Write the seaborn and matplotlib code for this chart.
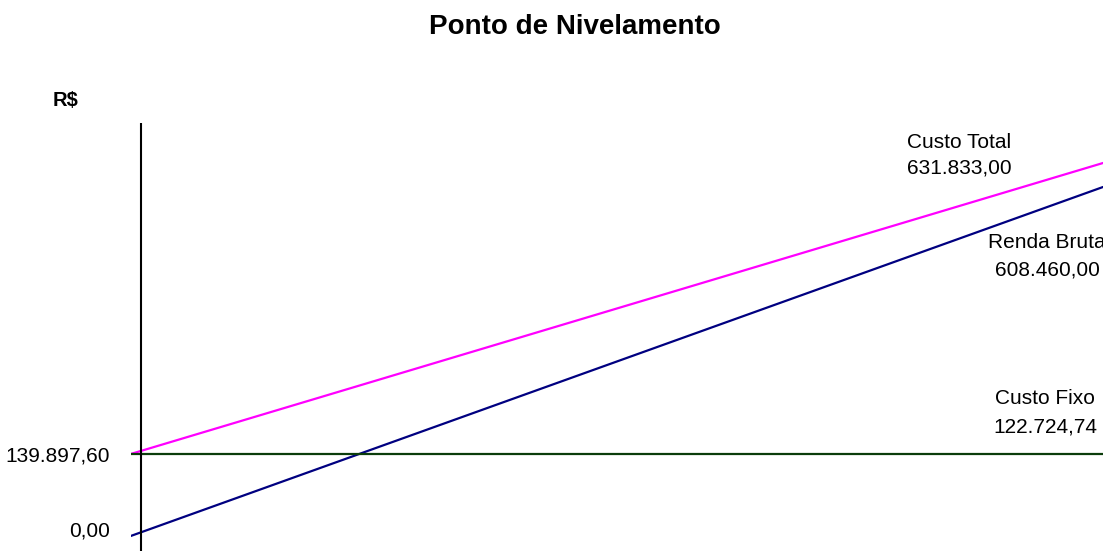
import numpy as np
import pandas as pd
import seaborn as sns
import matplotlib.pyplot as plt

# quantity axis (start / end of the drawn segment) and the three series in R$
quantidade = [0.0, 1.0]
custo_total = [139897.60, 682700.0]
renda_bruta = [-13057.0, 637933.0]
custo_fixo = [139897.60, 139897.60]

series_names = ["Custo Total", "Renda Bruta", "Custo Fixo"]
series_colors = ["#FF00FF", "#000080", "#0B3D0B"]

# labels written at the right end of each line
label_names = ["Custo Total", "Renda Bruta", "Custo Fixo"]
label_values = ["631.833,00", "608.460,00", "122.724,74"]

ytick_values = [139897.60, 0.0]
ytick_labels = ["139.897,60", "0,00"]

df = pd.DataFrame({
    "Quantidade": quantidade * 3,
    "Valor": custo_total + renda_bruta + custo_fixo,
    "Serie": [s for s in series_names for _ in quantidade],
})

sns.set_style("white")
plt.rcParams['font.family'] = ['Liberation Sans', 'DejaVu Sans']
plt.rcParams['text.color'] = 'black'
plt.rcParams['ytick.color'] = 'black'

fig = plt.figure(figsize=(11.03, 5.51), dpi=100)
ax = fig.add_axes([130.7 / 1103, 0.0, 1 - 130.7 / 1103, (551 - 123) / 551])

sns.lineplot(data=df, x="Quantidade", y="Valor", hue="Serie",
             palette=dict(zip(series_names, series_colors)),
             linewidth=1.6, legend=False, ax=ax)

ax.set_xlim(0, 1)
ax.set_ylim(-41037, 757312)
ax.axvline(0.0103, color="black", linewidth=1.5)

for sp in ax.spines.values():
    sp.set_visible(False)
ax.set_xticks([])
ax.set_yticks(ytick_values)
ax.set_yticklabels(ytick_labels, fontsize=15, color="black")
ax.tick_params(axis="y", length=0, pad=15)
ax.set_xlabel("")
ax.set_ylabel("")

# end-of-line labels (figure pixel positions)
label_pos = [(959, 143, 168.5), (1047, 243, 270), (1045, 398, 427)]
for name, value, (px, py1, py2) in zip(label_names, label_values, label_pos):
    fig.text(px / 1103, 1 - py1 / 551, name, ha="center", va="center", fontsize=15)
    fig.text(px / 1103, 1 - py2 / 551, value, ha="center", va="center", fontsize=15)

fig.text(575 / 1103, 1 - 27 / 551, "Ponto de Nivelamento", ha="center", va="center",
         fontsize=20, fontweight="bold")
fig.text(65 / 1103, 1 - 100 / 551, "R$", ha="center", va="center",
         fontsize=14.5, fontweight="bold")

fig.savefig("out.png", dpi=100)
